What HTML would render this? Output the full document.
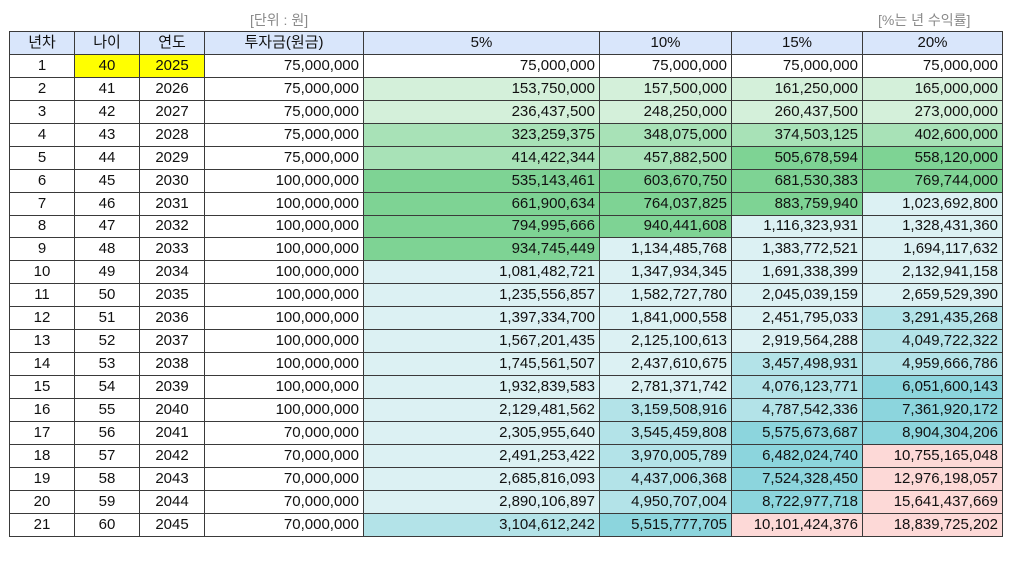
<!DOCTYPE html>
<html><head><meta charset="utf-8"><style>
body{margin:0;width:1024px;height:564px;background:#fff;position:relative;font-family:"Liberation Sans","Noto Sans CJK KR",sans-serif;overflow:hidden}
.cap{position:absolute;top:10px;font-size:14px;color:#8a8a8a}
table{position:absolute;left:9px;top:31px;border-collapse:collapse;table-layout:fixed;font-size:15px;color:#111}
td{border:1px solid #3a3a3a;height:21.95px;padding:0 4px;text-align:right;white-space:nowrap;line-height:20px}
td.c{text-align:center}
tr.h td{background:#d9e6fb;text-align:center}
.y{background:#ffff00}
.g1{background:#d4f0da}.g2{background:#a8e2b7}.g3{background:#7ed394}
.b1{background:#dcf1f3}.b2{background:#b3e3e8}.b3{background:#8cd5dd}
.p{background:#fdd9d7}
</style></head><body>
<div class="cap" style="left:250px">[단위 : 원]</div>
<div class="cap" style="left:878px">[%는 년 수익률]</div>
<table>
<colgroup><col style="width:65px"><col style="width:65px"><col style="width:65px"><col style="width:159px"><col style="width:236px"><col style="width:132px"><col style="width:131px"><col style="width:140px"></colgroup>
<tr class="h"><td>년차</td><td>나이</td><td>연도</td><td>투자금(원금)</td><td>5%</td><td>10%</td><td>15%</td><td>20%</td></tr>
<tr><td class="c">1</td><td class="c y">40</td><td class="c y">2025</td><td>75,000,000</td><td>75,000,000</td><td>75,000,000</td><td>75,000,000</td><td>75,000,000</td></tr>
<tr><td class="c">2</td><td class="c">41</td><td class="c">2026</td><td>75,000,000</td><td class="g1">153,750,000</td><td class="g1">157,500,000</td><td class="g1">161,250,000</td><td class="g1">165,000,000</td></tr>
<tr><td class="c">3</td><td class="c">42</td><td class="c">2027</td><td>75,000,000</td><td class="g1">236,437,500</td><td class="g1">248,250,000</td><td class="g1">260,437,500</td><td class="g1">273,000,000</td></tr>
<tr><td class="c">4</td><td class="c">43</td><td class="c">2028</td><td>75,000,000</td><td class="g2">323,259,375</td><td class="g2">348,075,000</td><td class="g2">374,503,125</td><td class="g2">402,600,000</td></tr>
<tr><td class="c">5</td><td class="c">44</td><td class="c">2029</td><td>75,000,000</td><td class="g2">414,422,344</td><td class="g2">457,882,500</td><td class="g3">505,678,594</td><td class="g3">558,120,000</td></tr>
<tr><td class="c">6</td><td class="c">45</td><td class="c">2030</td><td>100,000,000</td><td class="g3">535,143,461</td><td class="g3">603,670,750</td><td class="g3">681,530,383</td><td class="g3">769,744,000</td></tr>
<tr><td class="c">7</td><td class="c">46</td><td class="c">2031</td><td>100,000,000</td><td class="g3">661,900,634</td><td class="g3">764,037,825</td><td class="g3">883,759,940</td><td class="b1">1,023,692,800</td></tr>
<tr><td class="c">8</td><td class="c">47</td><td class="c">2032</td><td>100,000,000</td><td class="g3">794,995,666</td><td class="g3">940,441,608</td><td class="b1">1,116,323,931</td><td class="b1">1,328,431,360</td></tr>
<tr><td class="c">9</td><td class="c">48</td><td class="c">2033</td><td>100,000,000</td><td class="g3">934,745,449</td><td class="b1">1,134,485,768</td><td class="b1">1,383,772,521</td><td class="b1">1,694,117,632</td></tr>
<tr><td class="c">10</td><td class="c">49</td><td class="c">2034</td><td>100,000,000</td><td class="b1">1,081,482,721</td><td class="b1">1,347,934,345</td><td class="b1">1,691,338,399</td><td class="b1">2,132,941,158</td></tr>
<tr><td class="c">11</td><td class="c">50</td><td class="c">2035</td><td>100,000,000</td><td class="b1">1,235,556,857</td><td class="b1">1,582,727,780</td><td class="b1">2,045,039,159</td><td class="b1">2,659,529,390</td></tr>
<tr><td class="c">12</td><td class="c">51</td><td class="c">2036</td><td>100,000,000</td><td class="b1">1,397,334,700</td><td class="b1">1,841,000,558</td><td class="b1">2,451,795,033</td><td class="b2">3,291,435,268</td></tr>
<tr><td class="c">13</td><td class="c">52</td><td class="c">2037</td><td>100,000,000</td><td class="b1">1,567,201,435</td><td class="b1">2,125,100,613</td><td class="b1">2,919,564,288</td><td class="b2">4,049,722,322</td></tr>
<tr><td class="c">14</td><td class="c">53</td><td class="c">2038</td><td>100,000,000</td><td class="b1">1,745,561,507</td><td class="b1">2,437,610,675</td><td class="b2">3,457,498,931</td><td class="b2">4,959,666,786</td></tr>
<tr><td class="c">15</td><td class="c">54</td><td class="c">2039</td><td>100,000,000</td><td class="b1">1,932,839,583</td><td class="b1">2,781,371,742</td><td class="b2">4,076,123,771</td><td class="b3">6,051,600,143</td></tr>
<tr><td class="c">16</td><td class="c">55</td><td class="c">2040</td><td>100,000,000</td><td class="b1">2,129,481,562</td><td class="b2">3,159,508,916</td><td class="b2">4,787,542,336</td><td class="b3">7,361,920,172</td></tr>
<tr><td class="c">17</td><td class="c">56</td><td class="c">2041</td><td>70,000,000</td><td class="b1">2,305,955,640</td><td class="b2">3,545,459,808</td><td class="b3">5,575,673,687</td><td class="b3">8,904,304,206</td></tr>
<tr><td class="c">18</td><td class="c">57</td><td class="c">2042</td><td>70,000,000</td><td class="b1">2,491,253,422</td><td class="b2">3,970,005,789</td><td class="b3">6,482,024,740</td><td class="p">10,755,165,048</td></tr>
<tr><td class="c">19</td><td class="c">58</td><td class="c">2043</td><td>70,000,000</td><td class="b1">2,685,816,093</td><td class="b2">4,437,006,368</td><td class="b3">7,524,328,450</td><td class="p">12,976,198,057</td></tr>
<tr><td class="c">20</td><td class="c">59</td><td class="c">2044</td><td>70,000,000</td><td class="b1">2,890,106,897</td><td class="b2">4,950,707,004</td><td class="b3">8,722,977,718</td><td class="p">15,641,437,669</td></tr>
<tr><td class="c">21</td><td class="c">60</td><td class="c">2045</td><td>70,000,000</td><td class="b2">3,104,612,242</td><td class="b3">5,515,777,705</td><td class="p">10,101,424,376</td><td class="p">18,839,725,202</td></tr>
</table>
</body></html>
